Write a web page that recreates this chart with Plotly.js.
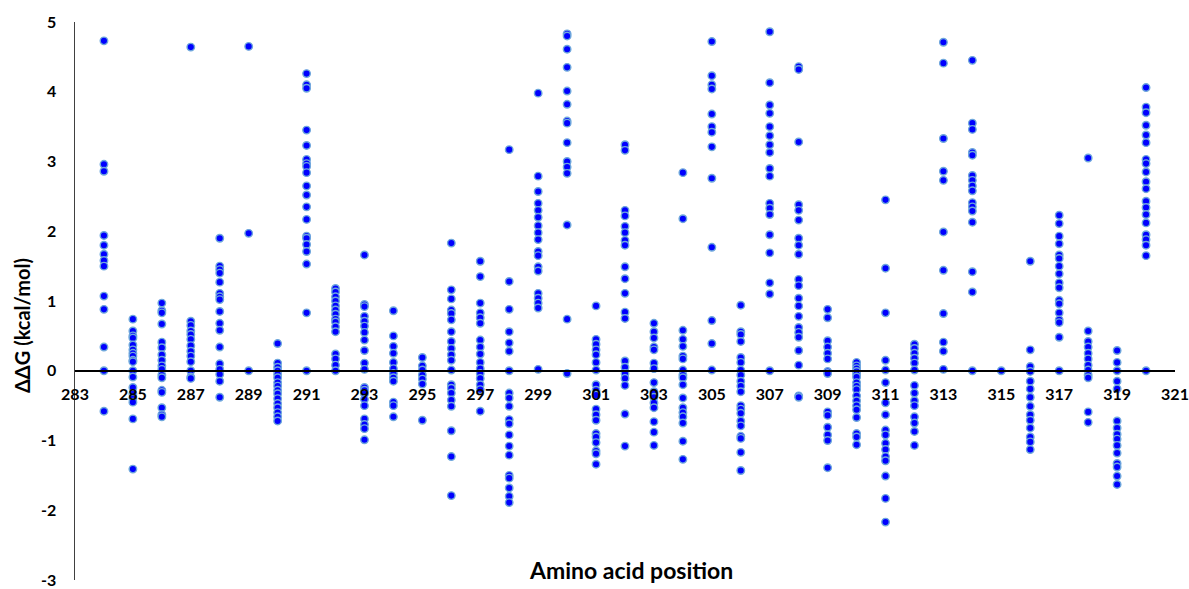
<!DOCTYPE html>
<html>
<head>
<meta charset="utf-8">
<script src="https://cdn.plot.ly/plotly-3.0.1.min.js"></script>
<style>html,body{margin:0;padding:0;background:#fff;}#chart{width:1189px;height:589px;}</style>
</head>
<body>
<div id="chart"></div>
<script>
// Amino acid positions and ΔΔG values (kcal/mol)
const positions = [284,285,286,287,288,289,290,291,292,293,294,295,296,297,298,299,300,301,302,303,304,305,306,307,308,309,310,311,312,313,314,315,316,317,318,319,320];
const ddgValues = [
  [4.73,2.96,2.86,1.94,1.80,1.67,1.58,1.50,1.07,0.88,0.34,0,-0.58],
  [0.74,0.57,0.50,0.47,0.37,0.30,0.25,0.21,0.15,0.13,0,-0.09,-0.24,-0.33,-0.40,-0.45,-0.69,-1.41],
  [0.97,0.86,0.83,0.67,0.41,0.33,0.23,0.15,0.07,0.02,-0.06,-0.10,-0.28,-0.31,-0.53,-0.63,-0.66],
  [4.64,0.71,0.65,0.57,0.52,0.45,0.36,0.28,0.21,0.13,0,-0.09,-0.11],
  [1.90,1.50,1.45,1.40,1.27,1.11,1.06,1.02,0.85,0.68,0.58,0.34,0.10,0.02,-0.05,-0.15,-0.38],
  [4.65,1.97,0],
  [0.39,0.11,0.05,0,-0.05,-0.10,-0.17,-0.22,-0.28,-0.33,-0.40,-0.47,-0.53,-0.60,-0.66,-0.72],
  [4.26,4.10,4.05,3.45,3.23,3.03,2.97,2.93,2.84,2.65,2.52,2.35,2.17,1.93,1.90,1.81,1.71,1.53,0.83,0],
  [1.18,1.13,1.06,1.00,0.93,0.87,0.81,0.74,0.70,0.63,0.56,0.24,0.17,0.08,0],
  [1.66,0.95,0.92,0.78,0.71,0.64,0.55,0.44,0.29,0.11,0.02,-0.24,-0.28,-0.33,-0.41,-0.50,-0.69,-0.77,-0.83,-0.99],
  [0.86,0.50,0.35,0.25,0.12,0.03,-0.04,-0.10,-0.15,-0.45,-0.50,-0.66],
  [0.19,0.07,0.01,-0.06,-0.12,-0.19,-0.71],
  [1.83,1.16,1.03,0.87,0.82,0.73,0.56,0.42,0.32,0.23,0.15,0.01,-0.20,-0.25,-0.32,-0.42,-0.51,-0.86,-1.23,-1.79],
  [1.57,1.35,0.97,0.83,0.76,0.68,0.44,0.34,0.24,0.12,0.03,-0.04,-0.11,-0.20,-0.27,-0.58],
  [3.17,1.28,0.88,0.56,0.40,0.28,0,-0.32,-0.39,-0.51,-0.70,-0.76,-0.92,-1.08,-1.21,-1.50,-1.54,-1.68,-1.80,-1.89],
  [3.98,2.79,2.57,2.40,2.30,2.20,2.08,1.98,1.88,1.71,1.65,1.49,1.43,1.11,1.04,0.97,0.90,0.02],
  [4.83,4.80,4.61,4.35,4.01,3.82,3.58,3.55,3.27,3.00,2.92,2.83,2.09,0.74,-0.04],
  [0.93,0.45,0.38,0.30,0.23,0.12,0.01,-0.20,-0.28,-0.35,-0.55,-0.63,-0.71,-0.90,-0.95,-1.03,-1.15,-1.19,-1.34],
  [3.24,3.16,2.30,2.22,2.07,1.98,1.87,1.80,1.49,1.32,1.11,0.84,0.75,0.14,0.05,-0.04,-0.11,-0.21,-0.62,-1.08],
  [0.68,0.56,0.47,0.34,0.30,0.11,0.03,-0.17,-0.30,-0.38,-0.46,-0.53,-0.73,-0.88,-1.07],
  [2.84,2.18,0.58,0.45,0.35,0.21,0.17,0.01,-0.06,-0.10,-0.20,-0.39,-0.53,-0.60,-0.66,-0.75,-1.01,-1.27],
  [4.72,4.23,4.10,4.04,3.68,3.50,3.42,3.21,2.76,1.77,0.72,0.39,0.01],
  [0.94,0.56,0.52,0.42,0.19,0.12,0.01,-0.06,-0.15,-0.22,-0.30,-0.50,-0.55,-0.61,-0.72,-0.79,-0.94,-0.97,-1.17,-1.43],
  [4.86,4.13,3.81,3.69,3.50,3.37,3.24,3.13,2.90,2.79,2.40,2.33,2.24,1.95,1.69,1.26,1.10,0],
  [4.36,4.32,3.28,2.38,2.30,2.16,1.90,1.80,1.67,1.31,1.22,1.04,0.93,0.78,0.62,0.55,0.48,0.29,0.08,-0.36,-0.38],
  [0.88,0.76,0.43,0.34,0.25,0.17,-0.01,-0.04,-0.59,-0.64,-0.81,-0.92,-1.00,-1.39],
  [0.12,0.07,0.03,-0.01,-0.05,-0.09,-0.17,-0.22,-0.27,-0.36,-0.43,-0.50,-0.56,-0.67,-0.90,-0.95,-1.06],
  [2.45,1.47,0.83,0.15,0.01,-0.17,-0.46,-0.63,-0.85,-0.92,-1.04,-1.13,-1.23,-1.29,-1.51,-1.83,-2.17],
  [0.38,0.32,0.25,0.18,0.11,0.01,-0.21,-0.32,-0.43,-0.50,-0.66,-0.75,-0.87,-1.07],
  [4.71,4.41,3.33,2.86,2.73,1.99,1.44,0.82,0.41,0.28,0.02],
  [4.45,3.55,3.46,3.13,3.09,2.80,2.73,2.65,2.58,2.41,2.35,2.29,2.13,1.42,1.13,0],
  [0],
  [1.57,0.30,0.06,-0.01,-0.15,-0.26,-0.38,-0.51,-0.63,-0.71,-0.82,-0.95,-1.02,-1.13],
  [2.23,2.11,1.93,1.82,1.66,1.61,1.50,1.39,1.26,1.19,1.01,0.96,0.83,0.73,0.69,0.48,0],
  [3.05,0.57,0.42,0.34,0.25,0.17,0.08,0.01,-0.06,-0.10,-0.59,-0.74],
  [0.29,0.12,0,-0.15,-0.26,-0.72,-0.82,-0.91,-0.98,-1.07,-1.18,-1.33,-1.38,-1.51,-1.63],
  [4.06,3.78,3.70,3.52,3.38,3.27,3.03,2.97,2.85,2.71,2.61,2.43,2.34,2.24,2.12,1.95,1.88,1.80,1.65,0]
];
const xTickVals = [283,285,287,289,291,293,295,297,299,301,303,305,307,309,311,313,315,317,319,321];
const yTickVals = [-3,-2,-1,0,1,2,3,4,5];
const xTitle = 'Amino acid position';
const yTitle = 'ΔΔG (kcal/mol)';

const xs = [], ys = [];
positions.forEach((p, i) => ddgValues[i].forEach(v => { xs.push(p); ys.push(v); }));

const fontFam = 'Lato, "Open Sans", sans-serif';
const trace = {
  type: 'scatter', mode: 'markers', x: xs, y: ys,
  marker: {color: '#0000FF', size: 7.5, line: {color: '#6FA8DC', width: 1.4}},
  hoverinfo: 'x+y', cliponaxis: false
};
const layout = {
  width: 1189, height: 589,
  margin: {l: 75, r: 14, t: 22, b: 9},
  paper_bgcolor: '#ffffff', plot_bgcolor: '#ffffff',
  showlegend: false,
  xaxis: {
    range: [283, 321], tickvals: xTickVals, ticktext: xTickVals.map(String),
    anchor: 'free', position: 0.375,
    showline: true, linecolor: '#000000', linewidth: 2,
    showgrid: false, zeroline: false, ticks: '', ticklabelstandoff: 9,
    ticklabeloverflow: 'allow', automargin: false,
    tickfont: {family: fontFam, size: 16, color: '#000000', weight: 'bold'}
  },
  yaxis: {
    range: [-3, 5], tickvals: yTickVals, ticktext: yTickVals.map(String),
    showline: true, linecolor: '#404040', linewidth: 1.5,
    showgrid: false, zeroline: false, ticks: '', ticklabelstandoff: 14,
    ticklabeloverflow: 'allow', automargin: false,
    tickfont: {family: fontFam, size: 16, color: '#000000', weight: 'bold'}
  },
  annotations: [
    {text: xTitle, xref: 'paper', yref: 'paper', x: 0.5055, y: 0.018, xanchor: 'center', yanchor: 'middle', showarrow: false,
     font: {family: fontFam, size: 23, color: '#000000', weight: 'bold'}},
    {text: yTitle, xref: 'paper', yref: 'paper', x: 0, y: 0.455, xshift: -53, textangle: -90, xanchor: 'center', yanchor: 'middle', showarrow: false,
     font: {family: fontFam, size: 20, color: '#000000', weight: 'bold'}}
  ]
};
Plotly.newPlot('chart', [trace], layout, {displayModeBar: false, staticPlot: true});
</script>
</body>
</html>
